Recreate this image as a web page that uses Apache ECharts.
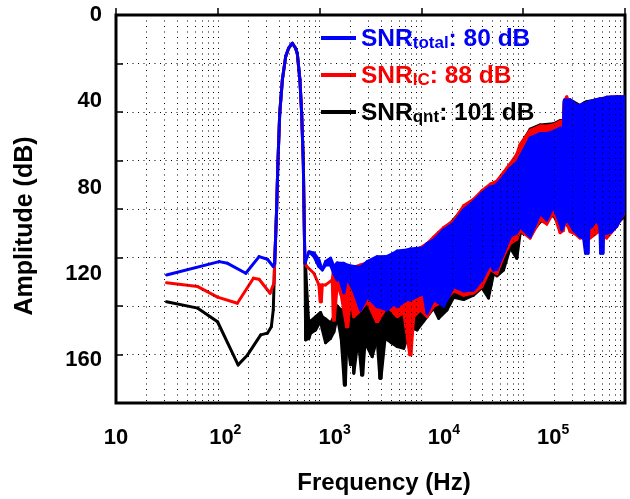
<!DOCTYPE html>
<html><head><meta charset="utf-8">
<script src="https://cdn.jsdelivr.net/npm/echarts@6/dist/echarts.min.js"></script>
<style>html,body{margin:0;padding:0;background:#fff}#c{width:630px;height:499px}</style>
</head><body><div id="c"></div>
<script>
// ---- tick labels ----
const xTickValues = [10, 100, 1000, 10000, 100000];
const xTickExps = ['', '2', '3', '4', '5'];
const yTickValues = [0, 40, 80, 120, 160];

// ---- legend ----
const seriesNames = ['SNR_total', 'SNR_IC', 'SNR_qnt'];
const seriesSubs = ['total', 'IC', 'qnt'];
const seriesSnr = ['80 dB', '88 dB', '101 dB'];

// ---- SNR_total (blue): frequency (Hz), upper and lower envelope (dB) ----
const totalFreq = [29, 88, 105, 154, 204, 243, 275, 283, 289, 295, 303, 315, 333, 357, 380, 411, 440, 456, 482, 500, 518, 525, 532, 536,
  583, 647, 719, 773, 828, 919, 986, 1059, 1095, 1216, 1300, 1500, 1727, 1989, 2455, 3028, 3483, 3741, 4613, 4943, 6543, 7027, 8075, 9955,
  12300, 15170, 18720, 22330, 26590, 28510, 30620, 35170, 40480, 46580, 49980, 61630, 76040, 87510, 100700, 115900, 120000, 124200,
  126800, 133300, 143000, 153200, 158800, 176400, 190000, 198000, 209000, 212000, 225600, 250000, 268000, 272000, 286000, 290000,
  309000, 340000, 381900, 409500, 455000];
const totalTop = [120.6, 114.4, 115.2, 119.8, 112.1, 113.3, 116.7, 115.2, 102.8, 90.4, 68.8, 45.6, 30.1, 19.3, 15.4, 13.1, 15.4, 17.8, 30.1, 45.6, 68.8, 88.9, 107.5, 115.2,
  109.8, 110.4, 113.6, 118.3, 114.4, 112.8, 116.7, 115, 115.2, 115.2, 116, 116.7, 117, 114.4, 112.1, 112, 110.5, 109.5, 109, 108.5, 108, 106, 104.4, 99.7,
  96.6, 90.4, 86.6, 82.7, 79.6, 79.6, 78.5, 75, 71.1, 68.5, 65.7, 57, 55, 55, 54, 52.5, 52.5, 52.5,
  39.4, 39.4, 39.4, 40.5, 41.7, 42, 41, 41, 40.5, 40.3, 40, 39.2, 39, 39, 38.7, 38.7,
  38.2, 38, 37.9, 37.9, 37.9];
const totalBottom = [120.6, 114.4, 115.2, 119.8, 112.1, 113.3, 116.7, 115.2, 102.8, 90.4, 68.8, 45.6, 30.1, 19.3, 15.4, 13.1, 15.4, 17.8, 30.1, 45.6, 68.8, 88.9, 107.5, 115.2,
  109.8, 112, 116.7, 118.3, 116, 116, 120, 122.9, 121, 128.9, 122, 128, 136.8, 130.7, 135.3, 136.8, 134, 135.3, 132, 132.2, 129.1, 138.4, 132, 135,
  126, 128, 127.6, 122.9, 115.2, 118.3, 118, 110.5, 102.8, 101, 98.2, 102.8, 92, 95.1, 88.9, 97, 99.7, 98,
  96.5, 95.1, 97, 99.7, 100.5, 102.8, 103.5, 110.5, 110.5, 99, 98.2, 95.1, 98, 110.5, 110.5, 101.3,
  101.3, 100.6, 98, 95.1, 90.4];

// ---- SNR_IC (red) ----
const icFreq = [29, 56, 85, 129, 181, 204, 257, 279, 283, 289, 295, 303, 315, 333, 357, 380, 411, 440, 456, 482, 500, 518, 525, 532, 536,
  560, 647, 719, 740, 756, 773, 828, 953, 975, 995, 1059, 1150, 1290, 1320, 1400, 1500, 1727, 1989, 2420, 2490, 3028, 3741, 4298, 4880, 5000,
  5300, 6096, 7027, 8075, 9955, 12300, 15170, 18720, 22330, 26590, 30620, 35170, 40480, 46580, 49980, 61630, 76040, 87510, 100700,
  115900, 124200, 126800, 133300, 137000, 143000, 158800, 176400, 217800, 268500, 309000, 381900, 455000];
const icTop = [124.2, 126, 130.9, 133.7, 122.1, 122.6, 129.1, 124.4, 115.2, 102.8, 90.4, 68.8, 45.6, 30.1, 19.3, 15.4, 13.1, 15.4, 17.8, 30.1, 45.6, 68.8, 88.9, 107.5, 115.2,
  116.8, 119.8, 125.2, 125.2, 125.5, 125.2, 125.2, 122.9, 119, 119, 118, 118, 118, 118, 118, 117, 116, 115, 114, 114, 113, 111, 110, 110, 110,
  110, 108, 106, 103, 98.6, 95.5, 88.5, 85.5, 81.5, 78.5, 77, 73, 69, 64.5, 60, 53.5, 51.5, 51.5, 51,
  49.5, 49, 40, 37.9, 39.4, 39.4, 41.7, 42, 40.2, 39, 38.2, 37.9, 37.9];
const icBottom = [124.2, 126, 130.9, 133.7, 122.1, 122.6, 129.1, 124.4, 115.2, 102.8, 90.4, 68.8, 45.6, 30.1, 19.3, 15.4, 13.1, 15.4, 17.8, 30.1, 45.6, 68.8, 88.9, 107.5, 115.2,
  116.8, 119.8, 125.2, 133, 133, 125.2, 125.2, 122.9, 141.5, 141.5, 125, 130, 144.6, 144.6, 132, 140, 137, 133, 142.2, 142.2, 135, 140, 138, 157.6, 157.6,
  140, 136.8, 140, 135, 133, 128, 130, 129, 126, 118, 120, 112, 106, 104, 100, 103.5, 95, 97, 91.5,
  101, 100, 97, 96, 98, 100.5, 101.5, 103.5, 103.5, 100, 103.5, 98, 91];

// ---- SNR_qnt (black) ----
const qntFreq = [29, 56, 85, 131, 160, 211, 243, 264, 275, 283, 289, 295, 303, 315, 333, 357, 380, 411, 440, 456, 482, 500, 518, 525, 532, 536,
  544, 583, 604, 670, 745, 773, 828, 919, 986, 1059, 1150, 1230, 1255, 1300, 1400, 1450, 1500, 1650, 1770, 1810, 1900, 2210, 2450, 2600, 2660,
  2900, 3300, 3741, 4298, 4943, 5690, 6543, 8075, 8975, 10690, 12300, 15170, 18720, 22330, 25640, 28510, 30620, 35170, 40480, 46580,
  49980, 61630, 76040, 100700, 115900, 124200, 126800, 143000, 176400, 196000, 203100, 268500, 381900, 455000];
const qntTop = [133, 136, 142.3, 162.3, 157.7, 148.4, 147.6, 144.6, 136.8, 115.2, 102.8, 90.4, 68.8, 45.6, 30.1, 19.3, 15.4, 13.1, 15.4, 17.8, 30.1, 45.6, 68.8, 88.9, 107.5, 115.2,
  118, 145, 142, 140, 138, 140, 141, 143, 140, 135, 137, 136, 136, 136, 136, 138, 137, 135, 135, 135, 132, 130, 130, 130, 130,
  128, 128, 127, 125, 122, 120, 112, 104, 101, 98, 95, 89.5, 86, 82, 80, 78.5, 77.5, 74.5, 70.5, 66,
  60.5, 53, 51, 50.5, 49, 48.8, 40, 39.4, 42, 40.5, 40.2, 39, 38, 38];
const qntBottom = [133, 136, 142.3, 162.3, 157.7, 148.4, 147.6, 144.6, 136.8, 115.2, 102.8, 90.4, 68.8, 45.6, 30.1, 19.3, 15.4, 13.1, 15.4, 17.8, 30.1, 45.6, 68.8, 88.9, 107.5, 115.2,
  150.7, 150, 147.6, 146.1, 142, 146, 152, 150, 147, 140, 150, 171.6, 171.6, 150, 162.3, 150, 166.2, 150, 167, 167, 152, 158.5, 150, 168.5, 168.5,
  150, 152, 153.8, 154.6, 145, 146.1, 142, 136, 140.7, 136.8, 131, 132, 130, 126.5, 131.3, 120, 121, 118.3, 108, 112.9,
  101, 102, 96, 93, 98, 97, 96, 99, 101, 100.5, 96, 98, 97, 93];

// ---- grid helper lines (log grid at 2..9 x decade) ----
const gridMultipliers = [2, 3, 4, 5, 6, 7, 8, 9];
const gridDecades = [10, 100, 1000, 10000, 100000];

const COLORS = ['#0000ff', '#ff0000', '#000000'];
const FONT = 'Liberation Sans, Arial, sans-serif';

function bandSeries(name, color, fr, top, bot) {
  return {
    name: name, type: 'custom', xAxisIndex: 0, yAxisIndex: 0, clip: true, z: 3,
    itemStyle: { color: color },
    encode: { x: 0, y: [1, 2] },
    data: fr.map((f, i) => [f, top[i], bot[i]]),
    renderItem: function (params, api) {
      const i = params.dataIndex;
      if (i >= fr.length - 1) return null;
      const pts = [
        api.coord([api.value(0), api.value(1)]),
        api.coord([fr[i + 1], top[i + 1]]),
        api.coord([fr[i + 1], bot[i + 1]]),
        api.coord([api.value(0), api.value(2)])
      ];
      return { type: 'polygon', shape: { points: pts },
        style: { fill: color, stroke: color, lineWidth: 3, lineJoin: 'round' } };
    }
  };
}

const minorLines = [];
gridDecades.forEach(d => gridMultipliers.forEach(m => minorLines.push({ xAxis: d * m })));

const dotted = { color: '#000', width: 1, type: [1, 4.5] };

const chart = echarts.init(document.getElementById('c'), null, { renderer: 'canvas' });
chart.setOption({
  animation: false,
  backgroundColor: '#fff',
  grid: { left: 116, top: 15, right: 5, bottom: 96, show: true, borderColor: '#000', borderWidth: 3, backgroundColor: 'transparent' },
  xAxis: [
    { type: 'log', logBase: 10, min: 10, max: 455000, position: 'bottom',
      axisLine: { show: false }, axisTick: { show: false }, splitLine: { show: false },
      axisLabel: { margin: 20, showMaxLabel: false, color: '#000',
        formatter: function (v) {
          const idx = xTickValues.findIndex(t => Math.abs(t - v) / t < 1e-6);
          if (idx < 0) return '';
          return xTickExps[idx] ? '{b|10}{sup|' + xTickExps[idx] + '}' : '{b|10}';
        },
        rich: {
          b: { fontSize: 22, fontWeight: 'bold', fontFamily: FONT, lineHeight: 26, verticalAlign: 'bottom', color: '#000' },
          sup: { fontSize: 14, fontWeight: 'bold', fontFamily: FONT, lineHeight: 13, verticalAlign: 'top', color: '#000' }
        } } },
    { type: 'log', logBase: 10, min: 10, max: 1000000, position: 'bottom',
      axisLine: { show: false }, axisLabel: { show: false },
      axisTick: { show: true, inside: true, length: 7, lineStyle: { color: '#000', width: 1.5 } },
      splitLine: { show: true, lineStyle: dotted } }
  ],
  yAxis: [
    { type: 'value', min: 0, max: 180, interval: 40, inverse: true, position: 'left',
      axisLine: { show: false }, axisTick: { show: false }, splitLine: { show: false },
      axisLabel: { margin: 14, color: '#000', fontSize: 22, fontWeight: 'bold', fontFamily: FONT,
        formatter: v => (yTickValues.indexOf(v) >= 0 ? String(v) : '') } },
    { type: 'value', min: 0, max: 8, interval: 1, inverse: true, position: 'left',
      axisLine: { show: false }, axisLabel: { show: false },
      axisTick: { show: true, inside: true, length: 7, lineStyle: { color: '#000', width: 1.5 } },
      splitLine: { show: true, lineStyle: dotted } }
  ],
  legend: {
    show: true, orient: 'vertical', left: 316, top: 22, itemGap: 12,
    itemWidth: 35, itemHeight: 4, icon: 'rect', selectedMode: false,
    data: seriesNames.map((n, i) => ({ name: n, textStyle: { color: COLORS[i] } })),
    formatter: function (name) {
      const i = seriesNames.indexOf(name);
      return '{m|SNR}{s|' + seriesSubs[i] + '}{m|: ' + seriesSnr[i] + '}';
    },
    textStyle: { fontFamily: FONT, fontWeight: 'bold',
      rich: {
        m: { fontSize: 24.5, fontWeight: 'bold', fontFamily: FONT, lineHeight: 28, verticalAlign: 'bottom' },
        s: { fontSize: 17, fontWeight: 'bold', fontFamily: FONT, lineHeight: 14, verticalAlign: 'bottom' }
      } }
  },
  graphic: [
    { type: 'text', x: 384, y: 483, silent: true,
      style: { text: 'Frequency (Hz)', fontSize: 24, fontWeight: 'bold', fontFamily: FONT, fill: '#000', textAlign: 'center', textVerticalAlign: 'middle' } },
    { type: 'text', x: 25, y: 226, rotation: Math.PI / 2, silent: true,
      style: { text: 'Amplitude (dB)', fontSize: 25, fontWeight: 'bold', fontFamily: FONT, fill: '#000', textAlign: 'center', textVerticalAlign: 'middle' } }
  ],
  series: [
    { name: 'grid', type: 'line', xAxisIndex: 1, yAxisIndex: 1, z: 1, silent: true,
      data: [[10, 0]], showSymbol: false, lineStyle: { opacity: 0 },
      markLine: { silent: true, symbol: ['none', 'none'], label: { show: false }, animation: false,
        lineStyle: dotted, emphasis: { disabled: true }, data: minorLines } },
    bandSeries(seriesNames[2], COLORS[2], qntFreq, qntTop, qntBottom),
    bandSeries(seriesNames[1], COLORS[1], icFreq, icTop, icBottom),
    bandSeries(seriesNames[0], COLORS[0], totalFreq, totalTop, totalBottom)
  ]
});
</script>
</body></html>
